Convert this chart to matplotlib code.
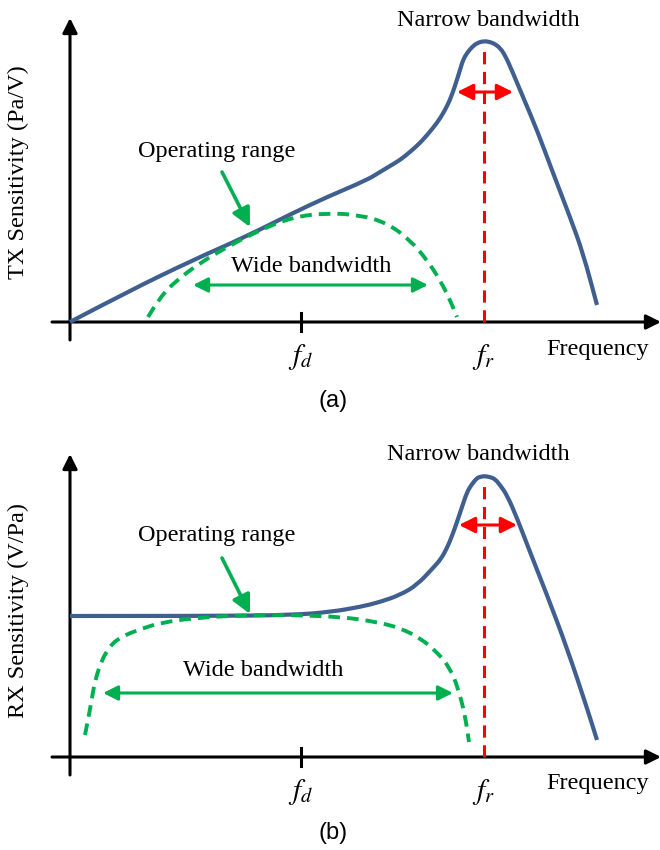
import matplotlib
matplotlib.use("Agg")
import matplotlib.pyplot as plt
from matplotlib.path import Path
from matplotlib.patches import PathPatch

plt.rcParams['font.family'] = ['Liberation Serif', 'DejaVu Serif']
plt.rcParams['mathtext.fontset'] = 'stix'

BLUE = '#3F5F8F'
GREEN = '#00B050'
RED = '#FF0000'

# frequency positions of the marked ticks (arbitrary units)
f_d = 231
f_r = 414

# panel (a): TX sensitivity
tx_freq = [0, 57, 123, 173, 223, 257, 297, 310, 320, 330, 340, 350, 358, 367, 374, 380,
           385, 390, 393, 397, 402, 407, 414, 420, 425, 430, 435, 443, 453, 467, 483,
           500, 513, 527]
tx_sens = [0, 30, 62, 84, 109, 125, 142, 150, 156, 162, 170, 179, 188, 199, 210, 222,
           236, 252, 262, 269, 275, 279, 281, 280, 278, 274, 267, 249, 225, 192, 149,
           105, 69, 17]
tx_op_freq = [78, 90, 107, 130, 157, 190, 223, 257, 290, 317, 340, 357, 370, 380, 387]
tx_op_sens = [5, 25, 42, 59, 75, 92, 105, 109, 107, 99, 82, 62, 42, 22, 5]

# panel (b): RX sensitivity
rx_freq = [0, 150, 223, 260, 290, 310, 330, 347, 363, 371, 377, 382, 387, 392, 397, 402,
           407, 410, 414, 420, 425, 430, 437, 447, 460, 477, 497, 517, 527]
rx_sens = [141, 141, 142, 145, 150, 155, 162, 172, 189, 198, 209, 221, 235, 250, 265, 273,
           279, 280, 281, 280, 278, 272, 262, 239, 205, 162, 109, 49, 17]
rx_op_freq = [15, 20, 25, 32, 37, 43, 50, 60, 74, 90, 123, 177, 223, 273, 307, 330, 350,
              367, 380, 388, 395, 399]
rx_op_sens = [22, 47, 77, 97, 106, 114, 119, 124, 129, 134, 139, 142, 142, 140, 135, 129,
              119, 105, 89, 69, 42, 15]


def smooth_curve(ax, x, y, **kw):
    # quadratic bezier through the midpoints, so the polyline corners get rounded
    verts = [(x[0], y[0])]
    codes = [Path.MOVETO]
    for i in range(1, len(x) - 1):
        verts += [(x[i], y[i]), ((x[i] + x[i + 1]) / 2, (y[i] + y[i + 1]) / 2)]
        codes += [Path.CURVE3, Path.CURVE3]
    verts.append((x[-1], y[-1]))
    codes.append(Path.LINETO)
    ax.add_patch(PathPatch(Path(verts, codes), fill=False, **kw))


def draw_panel(ax, freq, sens, op_freq, op_sens, ylabel, tag, p):
    ax.set_xlim(-70, 590)
    ax.set_ylim(p['ylo'], p['yhi'])
    ax.axis('off')

    # axes with arrow heads
    ax.annotate('', xy=(591, 0), xytext=(-18, 0), annotation_clip=False,
                arrowprops=dict(arrowstyle='-|>', lw=2.2, color='black',
                                mutation_scale=22, shrinkA=0, shrinkB=0))
    ax.annotate('', xy=(0, p['ytop']), xytext=(0, -18), annotation_clip=False,
                arrowprops=dict(arrowstyle='-|>', lw=2.2, color='black',
                                mutation_scale=22, shrinkA=0, shrinkB=0))
    ax.plot([f_d, f_d], [-9, 9], color='black', lw=2.2)

    ax.plot([f_r, f_r], [0, max(sens) - 6], color=RED, lw=2.2, ls=(0, (4, 2.5)), zorder=3)
    smooth_curve(ax, freq, sens, edgecolor=BLUE, lw=3.0, zorder=4)
    smooth_curve(ax, op_freq, op_sens, edgecolor=GREEN, lw=2.8, ls=(0, (3, 1.8)),
                 capstyle='butt', zorder=5)

    # narrow bandwidth
    ax.text(p['nb'][0], p['nb'][1], 'Narrow bandwidth', fontsize=17.5, ha='center', va='center')
    ax.annotate('', xy=(p['nb_arr'][1], p['nb_arr'][2]), xytext=(p['nb_arr'][0], p['nb_arr'][2]),
                arrowprops=dict(arrowstyle='<|-|>', lw=2.2, color=RED, mutation_scale=24,
                                shrinkA=0, shrinkB=0), zorder=6)

    # operating range
    ax.text(p['op'][0], p['op'][1], 'Operating range', fontsize=17.5, ha='center', va='center')
    ax.annotate('', xy=p['op_arr'][1], xytext=p['op_arr'][0],
                arrowprops=dict(arrowstyle='-|>', lw=2.6, color=GREEN, mutation_scale=28,
                                shrinkA=0, shrinkB=0), zorder=6)

    # wide bandwidth
    ax.text(p['wb'][0], p['wb'][1], 'Wide bandwidth', fontsize=17.5, ha='center', va='center')
    ax.annotate('', xy=(p['wb_arr'][1], p['wb_arr'][2]), xytext=(p['wb_arr'][0], p['wb_arr'][2]),
                arrowprops=dict(arrowstyle='<|-|>', lw=2.2, color=GREEN, mutation_scale=22,
                                shrinkA=0, shrinkB=0), zorder=6)

    ax.text(f_d, p['flab'], r'$f_d$', fontsize=21, ha='center', va='center')
    ax.text(f_r - 1, p['flab'], r'$f_r$', fontsize=21, ha='center', va='center')
    ax.text(528, p['flab'] + 8, 'Frequency', fontsize=17.5, ha='center', va='center')
    ax.text(263, p['tag'], tag, fontsize=17, ha='center', va='center',
            family=['Liberation Sans', 'DejaVu Sans'])
    ax.text(-52, p['ylab'], ylabel, fontsize=17.5, ha='center', va='center', rotation=90)


fig = plt.figure(figsize=(6.6, 8.5), dpi=100)
ax_a = fig.add_axes([0, 0.5, 1, 0.5])
ax_b = fig.add_axes([0, 0, 1, 0.5])

draw_panel(ax_a, tx_freq, tx_sens, tx_op_freq, tx_op_sens, 'TX Sensitivity (Pa/V)', '(a)',
           dict(ylo=-103, yhi=322, ytop=304, nb=(418, 302), nb_arr=(387, 443, 230),
                op=(147, 170), op_arr=((152, 150), (180, 95)), wb=(241, 56),
                wb_arr=(123, 358, 37), flab=-35, tag=-79, ylab=150))
draw_panel(ax_b, rx_freq, rx_sens, rx_op_freq, rx_op_sens, 'RX Sensitivity (V/Pa)', '(b)',
           dict(ylo=-93, yhi=332, ytop=303, nb=(408, 303), nb_arr=(389, 447, 232),
                op=(147, 221), op_arr=((152, 199), (180, 143)), wb=(193, 87),
                wb_arr=(33, 383, 64), flab=-35, tag=-76, ylab=147))

fig.savefig('out.png', dpi=100)
